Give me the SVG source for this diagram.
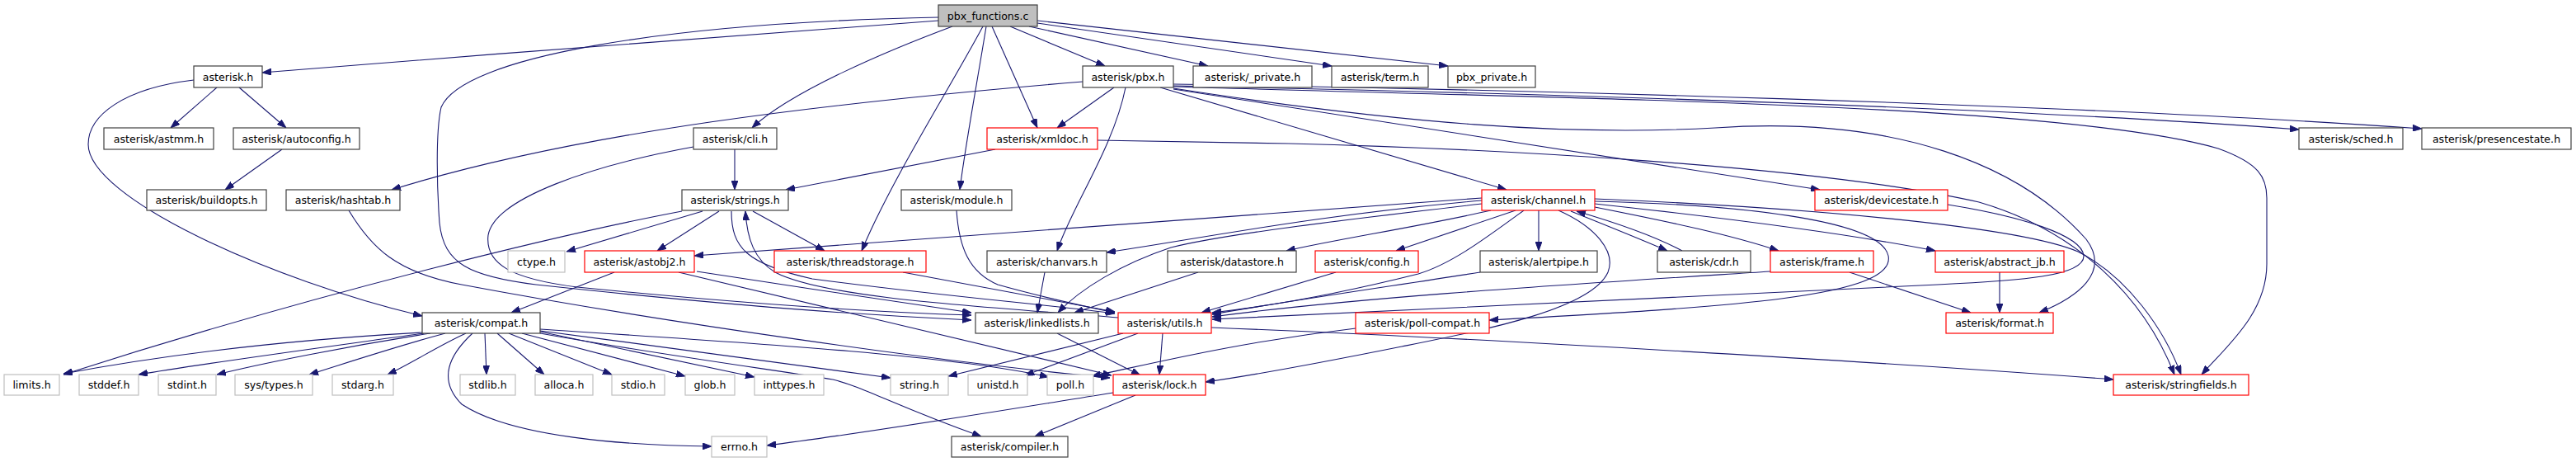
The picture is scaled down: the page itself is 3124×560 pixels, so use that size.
<svg xmlns="http://www.w3.org/2000/svg" width="3124" height="560" viewBox="0 0 3124 560">
<style>
.nd rect{fill:#fff;stroke:#404040;stroke-width:1.2}
.rd rect{fill:#fff;stroke:#ff0000;stroke-width:1.2}
.gy rect{fill:#fff;stroke:#bfbfbf;stroke-width:1.2}
.root rect{fill:#bfbfbf;stroke:#404040;stroke-width:1.2}
text{font-family:"DejaVu Sans","Liberation Sans",sans-serif;font-size:12.6px;text-anchor:middle;fill:#000}
#edges path{fill:none;stroke:#191970;stroke-width:1.1;marker-end:url(#arr)}
</style>
<defs>
<marker id="arr" viewBox="0 0 10 10" refX="10" refY="5" markerWidth="11" markerHeight="8" markerUnits="userSpaceOnUse" orient="auto" preserveAspectRatio="none"><path d="M0,0 L10,5 L0,10 z" fill="#191970" stroke="#191970"/></marker>
</defs>
<rect width="3124" height="560" fill="#fff"/>
<g id="edges">
<path d="M1138,25 C1000,35 600,65 318,88"/>
<path d="M1138,21 C800,28 560,70 535,130 C528,160 530,230 533,270 C538,320 570,335 650,345 C900,372 1050,382 1178,388"/>
<path d="M1155,32 C1080,60 960,110 912,155"/>
<path d="M1192,32 C1150,110 1080,220 1045,304"/>
<path d="M1196,32 C1185,100 1170,180 1164,230"/>
<path d="M1203,32 L1258,155"/>
<path d="M1225,32 L1340,80"/>
<path d="M1248,32 L1465,80"/>
<path d="M1258,28 L1615,80"/>
<path d="M1258,25 L1756,80"/>
<path d="M263,106 L207,155"/>
<path d="M290,106 L347,155"/>
<path d="M235,97 C150,107 107,140 107,175 C107,240 330,340 512,383"/>
<path d="M342,181 L273,230"/>
<path d="M1313,99 C1000,125 700,160 475,230"/>
<path d="M1351,106 L1282,155"/>
<path d="M1365,106 C1350,180 1300,250 1282,304"/>
<path d="M1407,106 L1827,230"/>
<path d="M1423,108 L2207,230"/>
<path d="M1423,104 C1800,112 2400,128 2788,157"/>
<path d="M1423,102 C1800,108 2500,125 2937,156"/>
<path d="M1423,105 C1900,120 2500,125 2690,180 C2740,198 2749,215 2749,240 L2749,320 C2749,380 2700,420 2670,454"/>
<path d="M1423,107 C1700,150 1900,165 2080,155 C2300,140 2450,200 2530,290 C2560,330 2520,360 2473,379"/>
<path d="M1207,181 L953,230"/>
<path d="M1331,170 L1563,174 C1800,180 2200,200 2400,245 C2520,280 2600,360 2637,454"/>
<path d="M891,181 L891,230"/>
<path d="M841,178 C720,200 600,240 592,285 C588,320 620,338 700,348 C900,368 1050,378 1178,382"/>
<path d="M423,255 C450,300 480,330 560,345 C800,390 1150,440 1346,458"/>
<path d="M827,256 C700,280 400,350 77,454"/>
<path d="M852,256 L687,305"/>
<path d="M872,256 L797,304"/>
<path d="M913,256 L1000,304"/>
<path d="M887,256 C887,300 905,320 985,338 C1150,360 1280,370 1352,380"/>
<path d="M1356,385 C1200,372 1000,362 940,330 C915,315 906,290 904,256"/>
<path d="M1160,255 C1163,300 1175,330 1210,345 C1270,362 1320,372 1352,379"/>
<path d="M745,330 L620,379"/>
<path d="M845,329 C950,345 1080,365 1178,379"/>
<path d="M823,330 L1348,455"/>
<path d="M1095,330 C1200,350 1300,368 1352,378"/>
<path d="M1267,330 L1258,379"/>
<path d="M1453,330 L1303,379"/>
<path d="M1620,330 L1457,379"/>
<path d="M1795,330 C1700,345 1560,365 1470,381"/>
<path d="M2147,329 C1900,345 1650,360 1470,384"/>
<path d="M2243,330 L2390,379"/>
<path d="M2425,330 L2425,379"/>
<path d="M1797,240 C1500,260 1200,285 842,310"/>
<path d="M1797,243 C1600,260 1450,290 1342,306"/>
<path d="M1797,247 C1600,270 1480,285 1420,300 C1360,320 1310,350 1283,379"/>
<path d="M1808,255 C1720,275 1620,290 1560,304"/>
<path d="M1838,255 L1693,304"/>
<path d="M1848,255 C1800,290 1760,320 1720,332 C1640,352 1550,370 1470,379"/>
<path d="M1866,255 L1866,304"/>
<path d="M1890,255 C1935,275 1960,305 1950,330 C1930,375 1800,400 1700,420 C1600,440 1520,455 1462,463"/>
<path d="M1905,256 C1935,268 1990,290 2022,304"/>
<path d="M2040,304 C2010,288 1960,270 1912,256"/>
<path d="M1934,251 C2030,270 2100,285 2157,304"/>
<path d="M1934,247 C2100,265 2250,285 2347,304"/>
<path d="M1934,244 C2100,248 2280,265 2290,310 C2300,360 2100,372 1806,388"/>
<path d="M1934,241 C2200,252 2450,275 2520,305 C2580,335 2625,400 2645,454"/>
<path d="M2362,248 C2450,262 2525,285 2527,310 C2528,335 2450,340 2350,345 C2000,362 1700,376 1470,387"/>
<path d="M512,403 C350,412 200,430 77,453"/>
<path d="M514,404 C400,420 250,440 168,454"/>
<path d="M522,404 C420,420 320,440 263,454"/>
<path d="M540,404 C480,420 420,440 375,454"/>
<path d="M565,404 C530,420 500,440 470,454"/>
<path d="M588,404 L590,454"/>
<path d="M603,404 L660,454"/>
<path d="M617,404 L742,454"/>
<path d="M633,404 L831,456"/>
<path d="M655,402 L915,457"/>
<path d="M655,401 C800,420 950,440 1080,458"/>
<path d="M655,399 C900,415 1150,430 1272,457"/>
<path d="M655,404 C800,430 950,450 1010,460 C1050,470 1080,490 1190,529"/>
<path d="M573,404 C545,430 530,460 560,490 C620,530 760,540 863,541"/>
<path d="M1282,404 L1383,455"/>
<path d="M1362,404 L1150,456"/>
<path d="M1380,404 L1243,455"/>
<path d="M1410,404 L1406,454"/>
<path d="M1469,397 C1800,410 2300,440 2563,460"/>
<path d="M1644,398 C1500,415 1400,440 1324,456"/>
<path d="M1350,476 C1200,500 1050,525 930,540"/>
<path d="M1377,479 L1255,529"/>
</g>
<g id="n_pbx_functions" class="root"><rect x="1138" y="6" width="120" height="26"/><text x="1198" y="23.5">pbx_functions.c</text></g>
<g id="n_asterisk" class="nd"><rect x="235" y="80" width="83" height="26"/><text x="276.5" y="97.5">asterisk.h</text></g>
<g id="n_pbx" class="nd"><rect x="1313" y="80" width="110" height="26"/><text x="1368" y="97.5">asterisk/pbx.h</text></g>
<g id="n_private" class="nd"><rect x="1447" y="80" width="144" height="26"/><text x="1519" y="97.5">asterisk/_private.h</text></g>
<g id="n_term" class="nd"><rect x="1615" y="80" width="117" height="26"/><text x="1673.5" y="97.5">asterisk/term.h</text></g>
<g id="n_pbx_private" class="nd"><rect x="1756" y="80" width="106" height="26"/><text x="1809" y="97.5">pbx_private.h</text></g>
<g id="n_astmm" class="nd"><rect x="126" y="155" width="133" height="26"/><text x="192.5" y="172.5">asterisk/astmm.h</text></g>
<g id="n_autoconfig" class="nd"><rect x="283" y="155" width="153" height="26"/><text x="359.5" y="172.5">asterisk/autoconfig.h</text></g>
<g id="n_cli" class="nd"><rect x="841" y="155" width="101" height="26"/><text x="891.5" y="172.5">asterisk/cli.h</text></g>
<g id="n_xmldoc" class="rd"><rect x="1197" y="155" width="134" height="26"/><text x="1264" y="172.5">asterisk/xmldoc.h</text></g>
<g id="n_sched" class="nd"><rect x="2788" y="155" width="126" height="26"/><text x="2851" y="172.5">asterisk/sched.h</text></g>
<g id="n_presencestate" class="nd"><rect x="2937" y="155" width="181" height="26"/><text x="3027.5" y="172.5">asterisk/presencestate.h</text></g>
<g id="n_buildopts" class="nd"><rect x="178" y="230" width="145" height="25"/><text x="250.5" y="247">asterisk/buildopts.h</text></g>
<g id="n_hashtab" class="nd"><rect x="347" y="230" width="138" height="25"/><text x="416" y="247">asterisk/hashtab.h</text></g>
<g id="n_strings" class="nd"><rect x="827" y="230" width="129" height="25"/><text x="891.5" y="247">asterisk/strings.h</text></g>
<g id="n_module" class="nd"><rect x="1093" y="230" width="134" height="25"/><text x="1160" y="247">asterisk/module.h</text></g>
<g id="n_channel" class="rd"><rect x="1797" y="230" width="137" height="25"/><text x="1865.5" y="247">asterisk/channel.h</text></g>
<g id="n_devicestate" class="rd"><rect x="2201" y="230" width="161" height="25"/><text x="2281.5" y="247">asterisk/devicestate.h</text></g>
<g id="n_ctype" class="gy"><rect x="616" y="304" width="69" height="26"/><text x="650.5" y="321.5">ctype.h</text></g>
<g id="n_astobj2" class="rd"><rect x="709" y="304" width="133" height="26"/><text x="775.5" y="321.5">asterisk/astobj2.h</text></g>
<g id="n_threadstorage" class="rd"><rect x="939" y="304" width="184" height="26"/><text x="1031" y="321.5">asterisk/threadstorage.h</text></g>
<g id="n_chanvars" class="nd"><rect x="1197" y="304" width="145" height="26"/><text x="1269.5" y="321.5">asterisk/chanvars.h</text></g>
<g id="n_datastore" class="nd"><rect x="1416" y="304" width="156" height="26"/><text x="1494" y="321.5">asterisk/datastore.h</text></g>
<g id="n_config" class="rd"><rect x="1595" y="304" width="125" height="26"/><text x="1657.5" y="321.5">asterisk/config.h</text></g>
<g id="n_alertpipe" class="nd"><rect x="1795" y="304" width="142" height="26"/><text x="1866" y="321.5">asterisk/alertpipe.h</text></g>
<g id="n_cdr" class="nd"><rect x="2010" y="304" width="113" height="26"/><text x="2066.5" y="321.5">asterisk/cdr.h</text></g>
<g id="n_frame" class="rd"><rect x="2147" y="304" width="125" height="26"/><text x="2209.5" y="321.5">asterisk/frame.h</text></g>
<g id="n_abstract_jb" class="rd"><rect x="2347" y="304" width="156" height="26"/><text x="2425" y="321.5">asterisk/abstract_jb.h</text></g>
<g id="n_compat" class="nd"><rect x="512" y="379" width="143" height="25"/><text x="583.5" y="396">asterisk/compat.h</text></g>
<g id="n_linkedlists" class="nd"><rect x="1183" y="379" width="149" height="25"/><text x="1257.5" y="396">asterisk/linkedlists.h</text></g>
<g id="n_utils" class="rd"><rect x="1356" y="379" width="113" height="25"/><text x="1412.5" y="396">asterisk/utils.h</text></g>
<g id="n_poll_compat" class="rd"><rect x="1644" y="379" width="162" height="25"/><text x="1725" y="396">asterisk/poll-compat.h</text></g>
<g id="n_format" class="rd"><rect x="2360" y="379" width="130" height="25"/><text x="2425" y="396">asterisk/format.h</text></g>
<g id="n_limits" class="gy"><rect x="5" y="454" width="67" height="25"/><text x="38.5" y="471">limits.h</text></g>
<g id="n_stddef" class="gy"><rect x="96" y="454" width="72" height="25"/><text x="132" y="471">stddef.h</text></g>
<g id="n_stdint" class="gy"><rect x="192" y="454" width="70" height="25"/><text x="227" y="471">stdint.h</text></g>
<g id="n_systypes" class="gy"><rect x="285" y="454" width="94" height="25"/><text x="332" y="471">sys/types.h</text></g>
<g id="n_stdarg" class="gy"><rect x="403" y="454" width="74" height="25"/><text x="440" y="471">stdarg.h</text></g>
<g id="n_stdlib" class="gy"><rect x="558" y="454" width="67" height="25"/><text x="591.5" y="471">stdlib.h</text></g>
<g id="n_alloca" class="gy"><rect x="649" y="454" width="70" height="25"/><text x="684" y="471">alloca.h</text></g>
<g id="n_stdio" class="gy"><rect x="742" y="454" width="64" height="25"/><text x="774" y="471">stdio.h</text></g>
<g id="n_glob" class="gy"><rect x="831" y="454" width="60" height="25"/><text x="861" y="471">glob.h</text></g>
<g id="n_inttypes" class="gy"><rect x="915" y="454" width="84" height="25"/><text x="957" y="471">inttypes.h</text></g>
<g id="n_string" class="gy"><rect x="1080" y="454" width="70" height="25"/><text x="1115" y="471">string.h</text></g>
<g id="n_unistd" class="gy"><rect x="1174" y="454" width="72" height="25"/><text x="1210" y="471">unistd.h</text></g>
<g id="n_poll" class="gy"><rect x="1270" y="454" width="56" height="25"/><text x="1298" y="471">poll.h</text></g>
<g id="n_lock" class="rd"><rect x="1350" y="454" width="112" height="25"/><text x="1406" y="471">asterisk/lock.h</text></g>
<g id="n_stringfields" class="rd"><rect x="2563" y="454" width="164" height="25"/><text x="2645" y="471">asterisk/stringfields.h</text></g>
<g id="n_errno" class="gy"><rect x="863" y="529" width="67" height="25"/><text x="896.5" y="546">errno.h</text></g>
<g id="n_compiler" class="nd"><rect x="1154" y="529" width="141" height="25"/><text x="1224.5" y="546">asterisk/compiler.h</text></g>
</svg>
